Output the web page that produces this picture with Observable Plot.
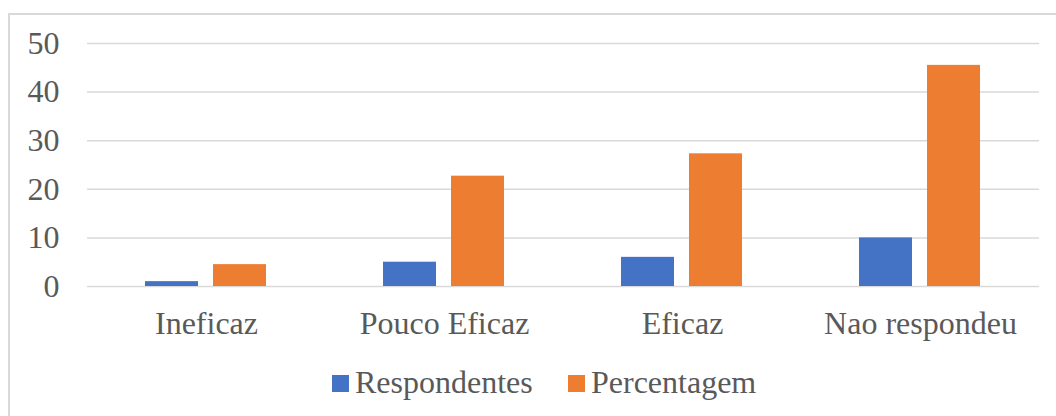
<!DOCTYPE html>
<html>
<head>
<meta charset="utf-8">
<script src="https://cdn.jsdelivr.net/npm/d3@7"></script>
<script src="https://cdn.jsdelivr.net/npm/@observablehq/plot@0.6"></script>
<style>
  html, body { margin: 0; padding: 0; background: #fff; }
  #wrap { position: relative; width: 1056px; height: 416px; overflow: hidden; color: #595959; font-family: 'Liberation Serif', 'Times New Roman', serif; }
  #border { position: absolute; left: 8px; top: 13px; width: 2000px; height: 2000px; border-left: 2px solid #d9d9d9; border-top: 2px solid #d9d9d9; box-sizing: border-box; }
  #chart { position: absolute; left: 0; top: 0; }
  .sw { position: absolute; width: 17px; height: 17px; top: 375px; }
  .lt { position: absolute; top: 366px; font-size: 32px; line-height: 32px; white-space: nowrap; }
</style>
</head>
<body>
<div id="wrap">
  <div id="border"></div>
  <div id="chart"></div>
  <div id="legend"></div>
</div>
<script>
const categories = ["Ineficaz", "Pouco Eficaz", "Eficaz", "Nao respondeu"];
const series = ["Respondentes", "Percentagem"];
const respondentes = [1, 5, 6, 10];
const percentagem = [4.5, 22.7, 27.3, 45.5];
const colors = ["#4472C4", "#ED7D31"];
const yTicks = [0, 10, 20, 30, 40, 50];

const data = categories.flatMap((c, i) => [
  {category: c, series: series[0], value: respondentes[i]},
  {category: c, series: series[1], value: percentagem[i]}
]);

const chart = Plot.plot({
  width: 1056,
  height: 350,
  marginLeft: 85,
  marginRight: 16,
  marginTop: 43,
  marginBottom: 64,
  style: "font-family: 'Liberation Serif', 'Times New Roman', serif; font-size: 32px; color: #595959; background: transparent; overflow: visible;",
  fx: {domain: categories, padding: 0, label: null, axis: "bottom", tickSize: 0, tickPadding: 25},
  x: {domain: series, paddingInner: 0.22, paddingOuter: 0.86, axis: null},
  y: {domain: [0, 50], ticks: yTicks, tickSize: 0, tickPadding: 28, label: null},
  color: {domain: series, range: colors},
  marks: [
    Plot.gridY(yTicks, {stroke: "#d9d9d9", strokeWidth: 1.5, strokeOpacity: 1}),
    Plot.barY(data, {fx: "category", x: "series", y: "value", fill: "series"})
  ]
});
document.getElementById("chart").appendChild(chart);

const legend = document.getElementById("legend");
const legendPos = [{sw: 332, tx: 355}, {sw: 568, tx: 591}];
series.forEach((s, i) => {
  const sw = document.createElement("div");
  sw.className = "sw";
  sw.style.left = legendPos[i].sw + "px";
  sw.style.background = colors[i];
  legend.appendChild(sw);
  const t = document.createElement("div");
  t.className = "lt";
  t.style.left = legendPos[i].tx + "px";
  t.textContent = s;
  legend.appendChild(t);
});
</script>
</body>
</html>
